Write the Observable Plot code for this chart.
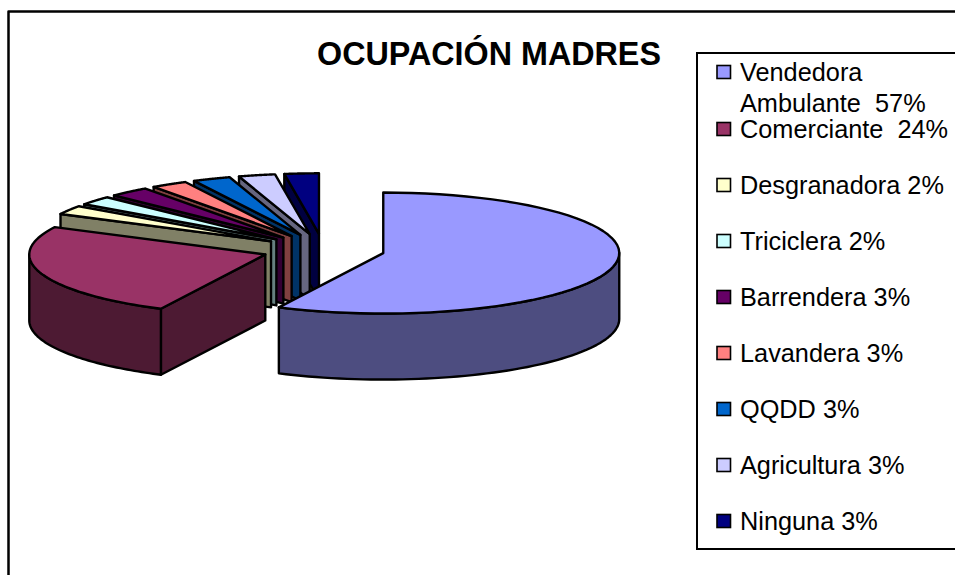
<!DOCTYPE html>
<html>
<head>
<meta charset="utf-8">
<script src="https://cdn.jsdelivr.net/npm/d3@7"></script>
<script src="https://cdn.jsdelivr.net/npm/@observablehq/plot@0.6"></script>
<style>
html,body{margin:0;padding:0;background:#fff;overflow:hidden}
svg{display:block}
</style>
</head>
<body>
<div id="chart"></div>
<script>
const occupations = ["Vendedora Ambulante","Comerciante","Desgranadora","Triciclera","Barrendera","Lavandera","QQDD","Agricultura","Ninguna"];
const percentLabels = ["57%","24%","2%","2%","3%","3%","3%","3%","3%"];
// slice sizes as drawn in the picture (slightly different from the rounded labels)
const sliceShares = [57.35,25.2,2.4,2.4,2.8,2.5,2.6,2.5,2.35];
const topColors  = ["#9999FF","#993366","#FFFFCC","#CCFFFF","#660066","#FF8080","#0066CC","#CCCCFF","#000080"];
const wallColors = ["#4D4D80","#4D1A33","#808066","#668080","#330033","#804040","#003366","#666680","#000040"];
const legendLines = [
  {t:"Vendedora", row:0, dy:0},
  {t:"Ambulante  57%", row:0, dy:31},
  {t:"Comerciante  24%", row:1, dy:0},
  {t:"Desgranadora 2%", row:2, dy:0},
  {t:"Triciclera 2%", row:3, dy:0},
  {t:"Barrendera 3%", row:4, dy:0},
  {t:"Lavandera 3%", row:5, dy:0},
  {t:"QQDD 3%", row:6, dy:0},
  {t:"Agricultura 3%", row:7, dy:0},
  {t:"Ninguna 3%", row:8, dy:0}
];
const rowCentre = [72,129,185,241,297,353,409,465,521];

const W = 955, H = 575;
const pie = {cx:323, cy:249, rx:236, ry:60.5, depth:66, explode:0.26};
const rad = d => d * Math.PI / 180;
const total = d3.sum(sliceShares);
let acc = 0;
const slices = sliceShares.map((v,i) => {
  const a0 = acc / total * 360; acc += v; const a1 = acc / total * 360;
  const m = (a0 + a1) / 2;
  return {i, a0, a1,
    ax: pie.cx + pie.explode * pie.rx * Math.sin(rad(m)),
    ay: pie.cy - pie.explode * pie.ry * Math.cos(rad(m))};
});
const rim = (s,a,drop=0) => ({
  x: s.ax + pie.rx * Math.sin(rad(a)),
  y: s.ay - pie.ry * Math.cos(rad(a)) + drop
});
const arc = (s,a0,a1,drop=0) => d3.range(0,61).map(k => rim(s, a0 + (a1-a0)*k/60, drop));

const poly = (pts,fill) => Plot.line(pts,{x:"x",y:"y",fill,stroke:"#000",strokeWidth:2.4,strokeLinejoin:"round",curve:"linear-closed"});

const pieMarks = [];
// painter's order: back slices first, the two big slices last
for (const s of [...slices].reverse()) {
  const apex = {x:s.ax,y:s.ay}, apexLow = {x:s.ax,y:s.ay+pie.depth};
  if (s.a0 > 0) {
    const c = rim(s,s.a0), cLow = rim(s,s.a0,pie.depth);
    pieMarks.push(poly([apex,c,cLow,apexLow], wallColors[s.i]));
  }
  const f0 = Math.max(s.a0,90), f1 = Math.min(s.a1,270);
  if (f1 > f0) {
    pieMarks.push(poly([...arc(s,f0,f1),...arc(s,f1,f0,pie.depth)], wallColors[s.i]));
  }
  pieMarks.push(poly([apex,...arc(s,s.a0,s.a1)], topColors[s.i]));
}

const frameLine = [{x:8,y:H},{x:8,y:11},{x:W,y:11}];
const legendBox = [{x1:697,x2:W+5,y1:53,y2:549}];
const swatches = occupations.map((o,i)=>({o,i,x1:717,x2:730.5,y1:rowCentre[i]-6.5,y2:rowCentre[i]+6.5,fill:topColors[i]}));

const plot = Plot.plot({
  width:W, height:H, margin:0,
  style:{background:"#fff",fontFamily:"'Liberation Sans',Arial,sans-serif"},
  x:{domain:[0,W],range:[0,W],axis:null},
  y:{domain:[0,H],range:[0,H],axis:null},
  marks:[
    Plot.line(frameLine,{x:"x",y:"y",stroke:"#000",strokeWidth:2.5}),
    ...pieMarks,
    Plot.rect(legendBox,{x1:"x1",x2:"x2",y1:"y1",y2:"y2",fill:"#fff",stroke:"#000",strokeWidth:2}),
    Plot.rect(swatches,{x1:"x1",x2:"x2",y1:"y1",y2:"y2",fill:"fill",stroke:"#000",strokeWidth:1.6}),
    Plot.text(legendLines,{x:()=>739.5,y:d=>rowCentre[d.row]+d.dy,text:"t",textAnchor:"start",fontSize:25.3,fill:"#000"}),
    Plot.text(["OCUPACIÓN MADRES"],{x:()=>488.5,y:()=>54,text:d=>d,textAnchor:"middle",fontSize:32.3,fontWeight:"bold",fill:"#000"})
  ]
});
document.getElementById("chart").appendChild(plot);
</script>
</body>
</html>
